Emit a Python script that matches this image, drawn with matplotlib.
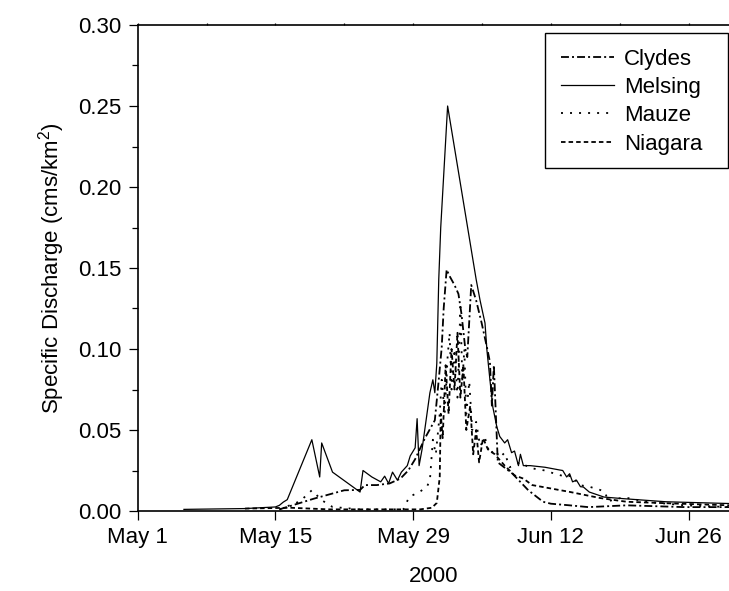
import matplotlib
matplotlib.use("Agg")
import matplotlib.pyplot as plt
import matplotlib.ticker as mticker
from matplotlib.patches import Rectangle
import pandas as pd

plt.rcParams['font.family'] = ['Liberation Sans', 'DejaVu Sans']
plt.rcParams['mathtext.fontset'] = 'custom'
plt.rcParams['mathtext.rm'] = 'Liberation Sans'
plt.rcParams['mathtext.it'] = 'Liberation Sans:italic'

start = pd.Timestamp('2000-05-01')

# days after May 1 / specific discharge (cms/km2)
melsing_days = [4.7, 10.9, 14.0, 14.4, 14.8, 15.2, 17.7, 18.5, 18.7, 19.8, 22.6, 22.9,
                23.8, 24.7, 25.1, 25.5, 25.9, 26.2, 26.4, 26.8, 27.4, 27.7, 28.2, 28.4,
                28.6, 28.9, 29.7, 30.0, 30.2, 30.4, 30.6, 30.8, 31.5, 34.4, 34.8, 35.3,
                35.5, 35.8, 36.1, 36.5, 36.8, 37.3, 37.6, 38.0, 38.3, 38.7, 38.9, 39.2,
                39.9, 41.4, 42.9, 43.2, 43.6, 43.9, 44.2, 44.6, 45.0, 45.3, 45.9, 47.4,
                49.4, 53.7, 60.2]
melsing_q = [0.001, 0.0015, 0.0025, 0.0035, 0.0055, 0.007, 0.044, 0.021, 0.042, 0.024, 0.0117, 0.025,
             0.021, 0.018, 0.0215, 0.017, 0.024, 0.021, 0.019, 0.024, 0.028, 0.034, 0.039, 0.057,
             0.028, 0.038, 0.073, 0.081, 0.073, 0.091, 0.143, 0.175, 0.250, 0.143, 0.130, 0.116,
             0.099, 0.081, 0.064, 0.052, 0.046, 0.042, 0.044, 0.036, 0.037, 0.028, 0.035, 0.028,
             0.028, 0.027, 0.0253, 0.025, 0.021, 0.023, 0.018, 0.019, 0.015, 0.0148, 0.0117, 0.0086,
             0.0076, 0.0057, 0.0046]

clydes_days = [14.4, 17.9, 21.0, 22.6, 23.1, 24.3, 25.6, 26.7, 27.5, 28.2, 29.2, 30.2,
               30.6, 30.9, 31.1, 31.4, 31.7, 32.2, 32.6, 32.9, 33.3, 33.5, 33.9, 34.4,
               34.96, 35.5, 35.8, 36.0, 36.2, 36.6, 38.1, 39.7, 41.2, 42.0, 43.9, 45.8,
               49.7, 55.6, 60.2]
clydes_q = [0.001, 0.0076, 0.0128, 0.013, 0.016, 0.016, 0.017, 0.02, 0.025, 0.032, 0.045, 0.056,
            0.081, 0.101, 0.125, 0.149, 0.145, 0.1395, 0.134, 0.122, 0.100, 0.095, 0.1395, 0.130,
            0.116, 0.101, 0.092, 0.065, 0.090, 0.030, 0.023, 0.0128, 0.0057, 0.0045, 0.0035, 0.0024,
            0.0035, 0.0024, 0.0024]

mauze_days = [14.4, 16.5, 17.7, 18.7, 19.8, 22.6, 27.0, 27.6, 28.7, 29.4, 29.7, 30.0,
              30.3, 30.7, 30.9, 31.2, 31.5, 31.7, 31.9, 32.2, 32.5, 32.8, 33.0, 33.2,
              33.4, 33.7, 34.0, 34.4, 34.8, 35.3, 35.8, 36.3, 36.8, 37.3, 37.8, 38.9,
              39.9, 41.4, 42.4, 43.6, 44.1, 44.9, 45.9, 47.0, 47.5, 47.8, 49.4, 51.7,
              55.6, 60.2]
mauze_q = [0.001, 0.006, 0.0128, 0.0067, 0.0025, 0.001, 0.001, 0.0087, 0.012, 0.015, 0.019, 0.044,
           0.035, 0.06, 0.081, 0.06, 0.095, 0.110, 0.075, 0.10, 0.07, 0.126, 0.08, 0.10,
           0.06, 0.08, 0.05, 0.055, 0.04, 0.045, 0.035, 0.038, 0.033, 0.036, 0.027, 0.030,
           0.0265, 0.025, 0.023, 0.021, 0.022, 0.016, 0.015, 0.013, 0.0118, 0.006, 0.0085, 0.0057,
           0.0035, 0.0024]

niagara_days = [10.9, 15.5, 19.5, 28.7, 29.9, 30.4, 30.7, 30.8, 31.0, 31.3, 31.6, 31.9,
                32.2, 32.5, 32.8, 33.1, 33.4, 33.8, 34.1, 34.4, 34.7, 35.1, 35.6, 36.3,
                37.3, 38.3, 39.2, 40.1, 43.9, 47.0, 49.7, 55.1, 60.2]
niagara_q = [0.0015, 0.002, 0.001, 0.001, 0.002, 0.005, 0.021, 0.06, 0.045, 0.09, 0.06, 0.10,
             0.075, 0.11, 0.07, 0.09, 0.05, 0.065, 0.035, 0.05, 0.03, 0.045, 0.038, 0.035,
             0.028, 0.022, 0.02, 0.016, 0.0118, 0.008, 0.0057, 0.0045, 0.0035]

tick_days = [0, 14, 28, 42, 56]
tick_labels = ['May 1', 'May 15', 'May 29', 'Jun 12', 'Jun 26']


def to_dates(days):
    return start + pd.to_timedelta(days, unit='D')


W, H = 729, 591
fig = plt.figure(figsize=(W / 100, H / 100), dpi=100)
ax = fig.add_axes([137.7 / W, 1 - 511 / H, (W - 137.7) / W, (511 - 25) / H])

ax.plot(to_dates(clydes_days), clydes_q, color='k', lw=1.3,
        linestyle=(0, (4.4, 1.7, 1.1, 1.7)), label='Clydes')
ax.plot(to_dates(melsing_days), melsing_q, color='k', lw=0.9, label='Melsing')
ax.plot(to_dates(mauze_days), mauze_q, color='k', lw=1.3,
        linestyle=(0, (1.1, 3.9)), label='Mauze')
ax.plot(to_dates(niagara_days), niagara_q, color='k', lw=1.3,
        linestyle=(0, (2.5, 1.7)), label='Niagara')

ax.set_xlim(start, start + pd.Timedelta(days=60.1))
ax.set_ylim(0, 0.30)
ax.set_xticks(to_dates(tick_days))
ax.set_xticklabels(tick_labels)
ax.yaxis.set_major_locator(mticker.MultipleLocator(0.05))
ax.yaxis.set_minor_locator(mticker.MultipleLocator(0.025))
ax.yaxis.set_major_formatter(mticker.FormatStrFormatter('%.2f'))

ax.tick_params(which='major', direction='out', length=6.5, width=0.9, labelsize=16, pad=5)
ax.tick_params(which='minor', direction='out', length=4.3, width=0.9)
ax.spines['right'].set_visible(False)
for s in ['left', 'bottom', 'top']:
    ax.spines[s].set_linewidth(1.2)

# small marks along the top edge every week
top = ax.secondary_xaxis('top')
top.set_xticks(to_dates(list(range(0, 61, 7))))
top.tick_params(direction='out', length=1.5, width=0.9, labeltop=False)
top.spines['top'].set_visible(False)

ax.set_xlabel('2000', fontsize=16, labelpad=13)
ax.set_ylabel('Specific Discharge (cms/km$^2$)', fontsize=16, labelpad=8)

# legend without its own frame, boxed by a rectangle in figure pixels
leg = ax.legend(loc='upper left', bbox_to_anchor=(545 / W, 1 - 33 / H),
                bbox_transform=fig.transFigure, borderaxespad=0, fontsize=16,
                frameon=False, handlelength=2.4, handletextpad=0.45,
                labelspacing=0.33, borderpad=0.7)
fig.patches.append(Rectangle((545 / W, 1 - 168 / H), (728 - 545) / W, (168 - 33) / H,
                             transform=fig.transFigure, fill=False,
                             edgecolor='k', linewidth=1.0, zorder=5))

fig.savefig('out.png', dpi=100)
